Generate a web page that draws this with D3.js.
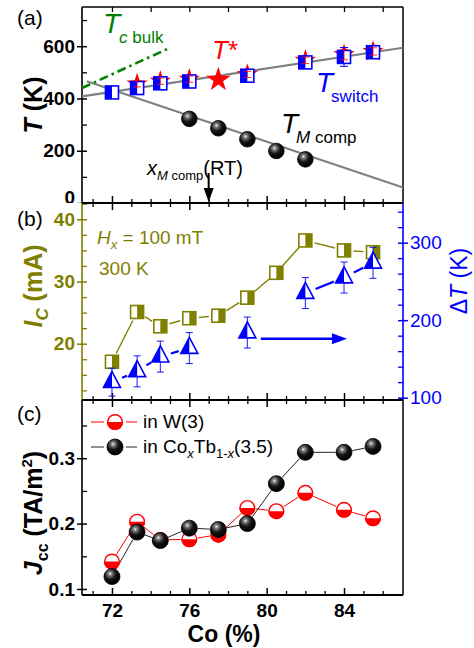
<!DOCTYPE html>
<html><head><meta charset="utf-8">
<script src="https://cdn.jsdelivr.net/npm/d3@7"></script>
<style>body{margin:0;background:#fff} svg{display:block;font-family:"Liberation Sans",Arial,sans-serif}</style>
</head><body><svg id="c" width="474" height="648"></svg>
<script>
// ---------- data ----------
const coX      = [72, 73.3, 74.5, 76, 77.5, 79, 80.5, 82, 84, 85.5];
const tSwitch  = [423, 440, 458, 465, null, 487, null, 538, 559, 577];
const tSwErr   = [8, 8, 8, 8, null, 8, null, 10, 36, 10];
const tStar    = [null, 456, 466, 474, 472, 492, null, 546, 568, 580];
const tStarErr = [null, 12, 12, 12, 12, 12, null, 12, 20, 14];
const tMcomp   = [null, null, null, 322, 286, 244, 199, 167, null, null];
const icVals   = [17.1, 25.1, 22.8, 24.1, 24.5, 27.4, 31.4, 36.6, 35.0, 34.7];
const dTVals   = [120, 134, 153, 164, null, 184, null, 235, 255, 274];
const dTErr    = [18, 20, 20, 20, null, 20, null, 20, 20, 20];
const jW       = [0.142, 0.203, 0.175, 0.176, 0.183, 0.224, 0.219, 0.247, 0.221, 0.208];
const jCoTb    = [0.119, 0.187, 0.174, 0.193, 0.191, 0.200, 0.261, 0.309, 0.309, 0.318];
const fitUpper = [[70.45, 408], [87.05, 594]];
const fitLower = [[70.7, 466], [87.05, 59]];
const tcBulk   = [[70.45, 440], [75.0, 594]];
const xMcompRT = 77.0;
const tTicks = [0, 200, 400, 600], tMinor = [100, 300, 500, 700];
const icTicks = [20, 30, 40], icMinor = [12.5, 15, 17.5, 22.5, 25, 27.5, 32.5, 35, 37.5, 42.5];
const dTTicks = [100, 200, 300], dTMinor = [120, 140, 160, 180, 220, 240, 260, 280, 320, 340];
const jTicks = [0.1, 0.2, 0.3], jMinor = [0.15, 0.25, 0.35];
const coTicks = [72, 76, 80, 84], coMinor = [71, 73, 74, 75, 77, 78, 79, 81, 82, 83, 85, 86];
const coTop = [72, 74, 76, 78, 80, 82, 84, 86];

// ---------- setup ----------
const L = 82, R = 403;
const OLIVE = "#808000", BLUE = "#0000ff", RED = "#ff0000", GREEN = "#008000";
const svg = d3.select("#c");
const defs = svg.append("defs");
const gr = defs.append("radialGradient").attr("id", "sph").attr("cx", "38%").attr("cy", "32%").attr("r", "65%");
gr.append("stop").attr("offset", "0%").attr("stop-color", "#f0f0f0");
gr.append("stop").attr("offset", "20%").attr("stop-color", "#7a7a7a");
gr.append("stop").attr("offset", "55%").attr("stop-color", "#151515");
gr.append("stop").attr("offset", "100%").attr("stop-color", "#000");
defs.append("clipPath").attr("id", "clipA").append("rect").attr("x", 0).attr("y", 0).attr("width", 474).attr("height", 203);

const x = d3.scaleLinear().domain([70.45, 87.05]).range([L, R]);
const yA = d3.scaleLinear().domain([0, 750]).range([203, 7]);
const yIc = d3.scaleLinear().domain([10.95, 42.62]).range([400, 203]);
const yDT = d3.scaleLinear().domain([97, 351.2]).range([400, 203]);
const yJ = d3.scaleLinear().domain([0.0908, 0.389]).range([595, 400]);

function styleAxis(g, color, width) {
  g.select("path.domain").remove();
  g.selectAll("line").attr("stroke", color).attr("stroke-width", width);
}
function vAxis(scale, xpos, majors, minors, color, side, fmt, weight, clip) {
  const outer = side === "left" ? d3.axisLeft : d3.axisRight;
  const inner = side === "left" ? d3.axisRight : d3.axisLeft;
  const g = svg.append("g").attr("transform", `translate(${xpos},0)`);
  const wrap = svg.append("g");
  if (clip) wrap.attr("clip-path", `url(#${clip})`);
  const a = wrap.append("g").attr("transform", `translate(${xpos},0)`)
    .call(outer(scale).tickValues(majors).tickSize(5).tickPadding(2).tickFormat(fmt));
  a.selectAll("text").attr("fill", color).attr("font-size", 19).attr("font-weight", weight)
    .attr("font-family", "Liberation Sans, Arial, sans-serif");
  styleAxis(a, color, 1.5);
  styleAxis(g.append("g").call(inner(scale).tickValues(majors).tickSize(5).tickFormat("")), color, 1.5);
  styleAxis(g.append("g").call(inner(scale).tickValues(minors).tickSize(5).tickFormat("")), color, 1.3);
  const r = scale.range();
  g.append("line").attr("y1", r[0]).attr("y2", r[1]).attr("stroke", color).attr("stroke-width", 1.6);
  return a;
}
function hAxisBoth(ypos, up, down) {
  const g = svg.append("g").attr("transform", `translate(0,${ypos})`);
  if (down) {
    styleAxis(g.append("g").call(d3.axisBottom(x).tickValues(coTicks).tickSize(7).tickFormat("")), "#000", 1.5);
    styleAxis(g.append("g").call(d3.axisBottom(x).tickValues(coMinor).tickSize(4).tickFormat("")), "#000", 1.3);
  }
  if (up) {
    styleAxis(g.append("g").call(d3.axisTop(x).tickValues(coTicks).tickSize(7).tickFormat("")), "#000", 1.5);
    styleAxis(g.append("g").call(d3.axisTop(x).tickValues(coMinor).tickSize(4).tickFormat("")), "#000", 1.3);
  }
  g.append("line").attr("x1", L).attr("x2", R).attr("stroke", "#000").attr("stroke-width", 2);
  return g;
}

// ---------- frames/axes ----------
svg.append("line").attr("x1", R).attr("x2", R).attr("y1", yA.range()[1]).attr("y2", yA.range()[0]).attr("stroke", "#000").attr("stroke-width", 1.5);
svg.append("line").attr("x1", R).attr("x2", R).attr("y1", yJ.range()[1]).attr("y2", yJ.range()[0]).attr("stroke", "#000").attr("stroke-width", 1.5);
{
  const g = svg.append("g").attr("transform", `translate(0,${yA.range()[1]})`);
  styleAxis(g.append("g").call(d3.axisBottom(x).tickValues(coTop).tickSize(5).tickFormat("")), "#000", 1.3);
  g.append("line").attr("x1", L).attr("x2", R).attr("stroke", "#000").attr("stroke-width", 1.5);
}
const axA = vAxis(yA, L, tTicks, tMinor, "#000", "left", d3.format("d"), "bold", "clipA");
// the "0" label sits just above the panel boundary (partly hidden, as in the original)
axA.selectAll(".tick").filter(d => d === 0).select("text").attr("dy", "0.05em");
vAxis(yIc, L, icTicks, icMinor, OLIVE, "left", d3.format("d"), "bold");
vAxis(yDT, R, dTTicks, dTMinor, BLUE, "right", d3.format("d"), "normal");
vAxis(yJ, L, jTicks, jMinor, "#000", "left", d3.format(".1f"), "bold");
hAxisBoth(yA.range()[0], true, true);
hAxisBoth(yJ.range()[1], true, true);
{
  const g = hAxisBoth(yJ.range()[0], true, false);
  const a = g.append("g").call(d3.axisBottom(x).tickValues(coTicks).tickSize(0).tickPadding(9).tickFormat(d3.format("d")));
  a.select("path.domain").remove();
  a.selectAll("text").attr("font-size", 19).attr("font-weight", "bold").attr("fill", "#000")
    .attr("font-family", "Liberation Sans, Arial, sans-serif");
}

// ---------- helpers ----------
function segs(pts, gap, color, w) {
  for (let i = 0; i < pts.length - 1; i++) {
    const p = pts[i], q = pts[i + 1];
    if (!p || !q) continue;
    const dx = q[0] - p[0], dy = q[1] - p[1], len = Math.hypot(dx, dy);
    if (len <= 2 * gap) continue;
    const ux = dx / len, uy = dy / len;
    svg.append("line").attr("x1", p[0] + ux * gap).attr("y1", p[1] + uy * gap)
      .attr("x2", q[0] - ux * gap).attr("y2", q[1] - uy * gap)
      .attr("stroke", color).attr("stroke-width", w);
  }
}
function errBar(cx, y1, y2, color, w, cap) {
  const g = svg.append("g").attr("stroke", color).attr("stroke-width", w);
  g.append("line").attr("x1", cx).attr("x2", cx).attr("y1", y1).attr("y2", y2);
  g.append("line").attr("x1", cx - cap).attr("x2", cx + cap).attr("y1", y1).attr("y2", y1);
  g.append("line").attr("x1", cx - cap).attr("x2", cx + cap).attr("y1", y2).attr("y2", y2);
}
function halfSquare(cx, cy, s, color, leftFilled) {
  const g = svg.append("g").attr("transform", `translate(${cx},${cy})`);
  g.append("rect").attr("x", -s / 2).attr("y", -s / 2).attr("width", s).attr("height", s).attr("fill", "#fff");
  g.append("rect").attr("x", leftFilled ? -s / 2 : 0).attr("y", -s / 2).attr("width", s / 2).attr("height", s).attr("fill", color);
  g.append("rect").attr("x", -s / 2).attr("y", -s / 2).attr("width", s).attr("height", s).attr("fill", "none")
    .attr("stroke", color).attr("stroke-width", 1.6);
}
function halfTri(cx, cy, w, h, color) {
  const g = svg.append("g").attr("transform", `translate(${cx},${cy})`);
  const top = -h * 2 / 3, bot = h / 3;
  g.append("path").attr("d", `M0,${top}L${w / 2},${bot}L${-w / 2},${bot}Z`).attr("fill", "#fff");
  g.append("path").attr("d", `M0,${top}L0,${bot}L${-w / 2},${bot}Z`).attr("fill", color);
  g.append("path").attr("d", `M0,${top}L${w / 2},${bot}L${-w / 2},${bot}Z`).attr("fill", "none")
    .attr("stroke", color).attr("stroke-width", 1.6).attr("stroke-linejoin", "miter");
}
function sphere(cx, cy, r) {
  svg.append("circle").attr("cx", cx).attr("cy", cy).attr("r", r).attr("fill", "url(#sph)")
    .attr("stroke", "#000").attr("stroke-width", 0.8);
}
function halfCircle(cx, cy, r, color) {
  const g = svg.append("g").attr("transform", `translate(${cx},${cy})`);
  g.append("circle").attr("r", r).attr("fill", "#fff");
  g.append("path").attr("d", `M${-r},0A${r},${r} 0 0 0 ${r},0Z`).attr("fill", color);
  g.append("circle").attr("r", r - 0.7).attr("fill", "none").attr("stroke", color).attr("stroke-width", 1.4);
}
function arrowHead(tx, ty, dir, len, wid, color) {
  const p = dir === "down"
    ? `M${tx},${ty}L${tx - wid / 2},${ty - len}L${tx + wid / 2},${ty - len}Z`
    : `M${tx},${ty}L${tx - len},${ty - wid / 2}L${tx - len},${ty + wid / 2}Z`;
  svg.append("path").attr("d", p).attr("fill", color);
}
function txt(xp, yp, color, size, parts, opts = {}) {
  const t = svg.append("text").attr("x", xp).attr("y", yp).attr("fill", color).attr("font-size", size);
  if (opts.weight) t.attr("font-weight", opts.weight);
  if (opts.transform) t.attr("transform", opts.transform);
  if (opts.anchor) t.attr("text-anchor", opts.anchor);
  parts.forEach(p => {
    const s = t.append("tspan").text(p.t);
    if (p.i) s.attr("font-style", "italic");
    if (p.s) s.attr("font-size", p.s);
    if (p.dy) s.attr("dy", p.dy);
    if (p.dx) s.attr("dx", p.dx);
    if (p.w) s.attr("font-weight", p.w);
  });
  return t;
}

// ---------- panel (a) ----------
const lineGen = d3.line().x(d => x(d[0])).y(d => yA(d[1]));
svg.append("path").attr("d", lineGen(fitUpper)).attr("stroke", "#808080").attr("stroke-width", 2.2).attr("fill", "none");
svg.append("path").attr("d", lineGen(fitLower)).attr("stroke", "#808080").attr("stroke-width", 2.2).attr("fill", "none");
svg.append("path").attr("d", lineGen(tcBulk)).attr("stroke", GREEN).attr("stroke-width", 2.6).attr("fill", "none")
  .attr("stroke-dasharray", "9,4,2.5,4");

const starSmall = d3.symbol().type(d3.symbolStar).size(140)();
const starBig = d3.symbol().type(d3.symbolStar).size(190)();
coX.forEach((c, i) => {
  if (tStar[i] == null) return;
  svg.append("path").attr("d", tSwitch[i] == null ? starBig : starSmall)
    .attr("transform", `translate(${x(c)},${yA(tStar[i])})`).attr("fill", RED);
});
coX.forEach((c, i) => {
  if (tSwitch[i] == null) return;
  errBar(x(c), yA(tSwitch[i] - tSwErr[i]), yA(tSwitch[i] + tSwErr[i]), BLUE, 1, 4);
});
coX.forEach((c, i) => {
  if (tSwitch[i] == null) return;
  halfSquare(x(c), yA(tSwitch[i]), 13, BLUE, true);
});
coX.forEach((c, i) => {
  if (tStar[i] == null) return;
  errBar(x(c), yA(tStar[i] - tStarErr[i]), yA(tStar[i] + tStarErr[i]), RED, 0.8, 4);
});
coX.forEach((c, i) => {
  if (tMcomp[i] == null) return;
  sphere(x(c), yA(tMcomp[i]), 7.8);
});
svg.append("line").attr("x1", x(xMcompRT)).attr("x2", x(xMcompRT)).attr("y1", yA(115)).attr("y2", yA(40))
  .attr("stroke", "#000").attr("stroke-width", 2);
arrowHead(x(xMcompRT), yA(0) - 1, "down", 14, 10, "#000");

txt(17, 25, "#000", 21, [{ t: "(a)" }]);
txt(17, 226, "#000", 21, [{ t: "(b)" }]);
txt(17, 421, "#000", 21, [{ t: "(c)" }]);

txt(103, 33, GREEN, 28, [{ t: "T", i: 1 }, { t: "c", i: 1, s: 17, dy: 10, dx: -1 }, { t: " bulk", s: 17 }]);
txt(212, 59, RED, 26, [{ t: "T", i: 1 }, { t: "*" }]);
txt(316, 92, BLUE, 28, [{ t: "T", i: 1 }, { t: "switch", s: 17, dy: 10, dx: -2 }]);
txt(281, 133, "#000", 28, [{ t: "T", i: 1 }, { t: "M", i: 1, s: 17, dy: 10, dx: -2 }, { t: " comp", s: 17 }]);
txt(147, 175, "#000", 20, [{ t: "x", i: 1 }, { t: "M", i: 1, s: 13, dy: 5 }, { t: " comp", s: 13 }, { t: "(RT)", dy: -5 }]);

// ---------- panel (b) ----------
const icPts = coX.map((c, i) => icVals[i] == null ? null : [x(c), yIc(icVals[i])]);
segs(icPts, 9.5, OLIVE, 1.4);
icPts.forEach(p => { if (p) halfSquare(p[0], p[1], 13, OLIVE, false); });

const dtPts = coX.map((c, i) => dTVals[i] == null ? null : [x(c), yDT(dTVals[i])]);
segs(dtPts, 11, BLUE, 2.2);
coX.forEach((c, i) => {
  if (dTVals[i] == null) return;
  errBar(x(c), yDT(dTVals[i] - dTErr[i]), yDT(dTVals[i] + dTErr[i]), BLUE, 0.9, 3.5);
});
dtPts.forEach(p => { if (p) halfTri(p[0], p[1], 17, 16, BLUE); });
svg.append("line").attr("x1", x(79.7)).attr("x2", x(83.5)).attr("y1", yDT(176)).attr("y2", yDT(176))
  .attr("stroke", BLUE).attr("stroke-width", 2.6);
arrowHead(x(84.15), yDT(176), "right", 15, 11, BLUE);

txt(97, 244, OLIVE, 19, [{ t: "H", i: 1 }, { t: "x", i: 1, s: 13, dy: 5 }, { t: " = 100 mT", dy: -5 }]);
txt(99, 275, OLIVE, 19, [{ t: "300 K" }]);

// ---------- panel (c) ----------
const wPts = coX.map((c, i) => [x(c), yJ(jW[i])]);
const cPts = coX.map((c, i) => [x(c), yJ(jCoTb[i])]);
segs(wPts, 8.5, RED, 1);
segs(cPts, 8.5, "#222", 1);
wPts.forEach(p => halfCircle(p[0], p[1], 8, RED));
cPts.forEach(p => sphere(p[0], p[1], 8));

svg.append("line").attr("x1", 91).attr("x2", 104).attr("y1", 422).attr("y2", 422).attr("stroke", RED);
svg.append("line").attr("x1", 126).attr("x2", 137).attr("y1", 422).attr("y2", 422).attr("stroke", RED);
halfCircle(115, 422, 8, RED);
svg.append("line").attr("x1", 91).attr("x2", 104).attr("y1", 447).attr("y2", 447).attr("stroke", "#222");
svg.append("line").attr("x1", 126).attr("x2", 137).attr("y1", 447).attr("y2", 447).attr("stroke", "#222");
sphere(115, 447, 8);
txt(143, 428, "#000", 19, [{ t: "in W(3)" }]);
txt(143, 453, "#000", 19, [{ t: "in Co" }, { t: "x", i: 1, s: 13, dy: 5 }, { t: "Tb", dy: -5 }, { t: "1-", s: 13, dy: 5 }, { t: "x", i: 1, s: 13 }, { t: "(3.5)", dy: -5 }]);

// ---------- axis titles ----------
txt(0, 0, "#000", 25, [{ t: "T", i: 1 }, { t: " (K)" }], { weight: "bold", anchor: "middle", transform: "translate(42,105) rotate(-90)" });
txt(0, 0, OLIVE, 25, [{ t: "I", i: 1 }, { t: "C", i: 1, s: 17, dy: 6 }, { t: " (mA)", dy: -6 }], { weight: "bold", anchor: "middle", transform: "translate(42,286) rotate(-90)" });
txt(0, 0, BLUE, 23, [{ t: "\u0394" }, { t: "T", i: 1 }, { t: " (K)" }], { anchor: "middle", transform: "translate(467,281) rotate(-90)" });
txt(0, 0, "#000", 25, [{ t: "J", i: 1 }, { t: "cc", s: 16, dy: 6 }, { t: " (TA/m", dy: -6 }, { t: "2", s: 15, dy: -10 }, { t: ")", dy: 10 }], { weight: "bold", anchor: "middle", transform: "translate(42,513) rotate(-90)" });
txt(224, 642, "#000", 23, [{ t: "Co (%)" }], { weight: "bold", anchor: "middle" });
</script></body></html>
